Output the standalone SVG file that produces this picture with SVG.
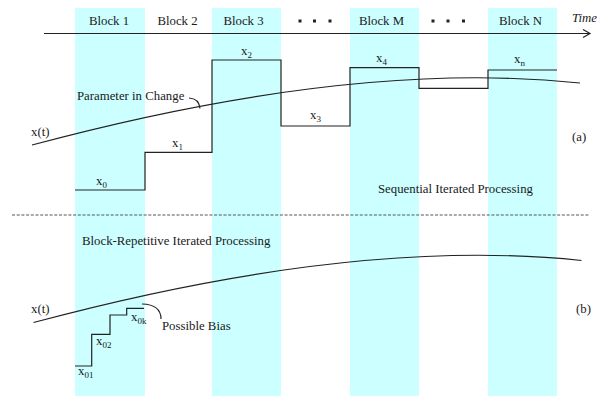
<svg xmlns="http://www.w3.org/2000/svg" width="602" height="396" viewBox="0 0 602 396">
<style>
text{font-family:"Liberation Serif","Times New Roman",serif;font-size:12.8px;fill:#1a1a1a}
.sub{font-size:9px}
.band{fill:#ccffff}
.ln{fill:none;stroke:#222;stroke-width:1.2}
.dot{fill:#222}
</style>
<defs>
<path id="curve" d="M32,145 C200,100 400,64 580,83"/>
</defs>
<g id="bands">
<rect class="band" x="75" y="8" width="70" height="388"/>
<rect class="band" x="212" y="8" width="69" height="388"/>
<rect class="band" x="350" y="8" width="69" height="388"/>
<rect class="band" x="488" y="8" width="69" height="388"/>
</g>
<g id="block-labels">
<text x="109" y="25" text-anchor="middle">Block 1</text>
<text x="177.5" y="25" text-anchor="middle">Block 2</text>
<text x="243.5" y="25" text-anchor="middle">Block 3</text>
<text x="381.5" y="25" text-anchor="middle">Block M</text>
<text x="520.5" y="25" text-anchor="middle">Block N</text>
<rect class="dot" x="298.5" y="19.5" width="3" height="3"/>
<rect class="dot" x="313" y="19.5" width="3" height="3"/>
<rect class="dot" x="328.5" y="19.5" width="3" height="3"/>
<rect class="dot" x="431.5" y="19.5" width="3" height="3"/>
<rect class="dot" x="446.5" y="19.5" width="3" height="3"/>
<rect class="dot" x="462" y="19.5" width="3" height="3"/>
</g>
<g id="time-axis">
<line class="ln" x1="44" y1="33.5" x2="590" y2="33.5" stroke="#444"/>
<polyline class="ln" points="583,29.5 590,33.5 583,37.5"/>
<text x="572" y="22" font-style="italic">Time</text>
</g>
<g id="panel-a">
<use href="#curve" class="ln"/>
<polyline class="ln" points="75,190 145,190 145,152.3 212,152.3 212,60 281,60 281,126 350,126 350,67.7 419,67.7 419,88.3 488,88.3 488,70 557,70"/>
<text x="96" y="185">x<tspan class="sub" dy="3">0</tspan></text>
<text x="172" y="146.5">x<tspan class="sub" dy="3">1</tspan></text>
<text x="241" y="54.5">x<tspan class="sub" dy="3">2</tspan></text>
<text x="310" y="118.5">x<tspan class="sub" dy="3">3</tspan></text>
<text x="376" y="61.5">x<tspan class="sub" dy="3">4</tspan></text>
<text x="514" y="63">x<tspan class="sub" dy="3">n</tspan></text>
<text x="77" y="99.5">Parameter in Change</text>
<path class="ln" d="M189,98 Q199,98.5 200,108.5"/>
<text x="31" y="136">x(t)</text>
<text x="572" y="141">(a)</text>
<text x="378" y="193">Sequential Iterated Processing</text>
</g>
<g id="separator">
<line x1="12" y1="215" x2="590" y2="215" stroke="#555" stroke-width="1.2" stroke-dasharray="3,1.7"/>
</g>
<g id="panel-b">
<text x="82" y="245">Block-Repetitive Iterated Processing</text>
<use href="#curve" class="ln" transform="translate(1.5,177.5)"/>
<text x="31" y="313">x(t)</text>
<text x="576" y="313">(b)</text>
<polyline class="ln" points="75,366 91.7,366 91.7,334.3 110,334.3 110,315 126.7,315 126.7,308.3 144,308.3"/>
<text x="78" y="375">x<tspan class="sub" dy="3">01</tspan></text>
<text x="96" y="344.5">x<tspan class="sub" dy="3">02</tspan></text>
<text x="131" y="321">x<tspan class="sub" dy="3">0k</tspan></text>
<path class="ln" d="M142,304 Q161,304.5 161,319"/>
<text x="162" y="330">Possible Bias</text>
</g>
</svg>
